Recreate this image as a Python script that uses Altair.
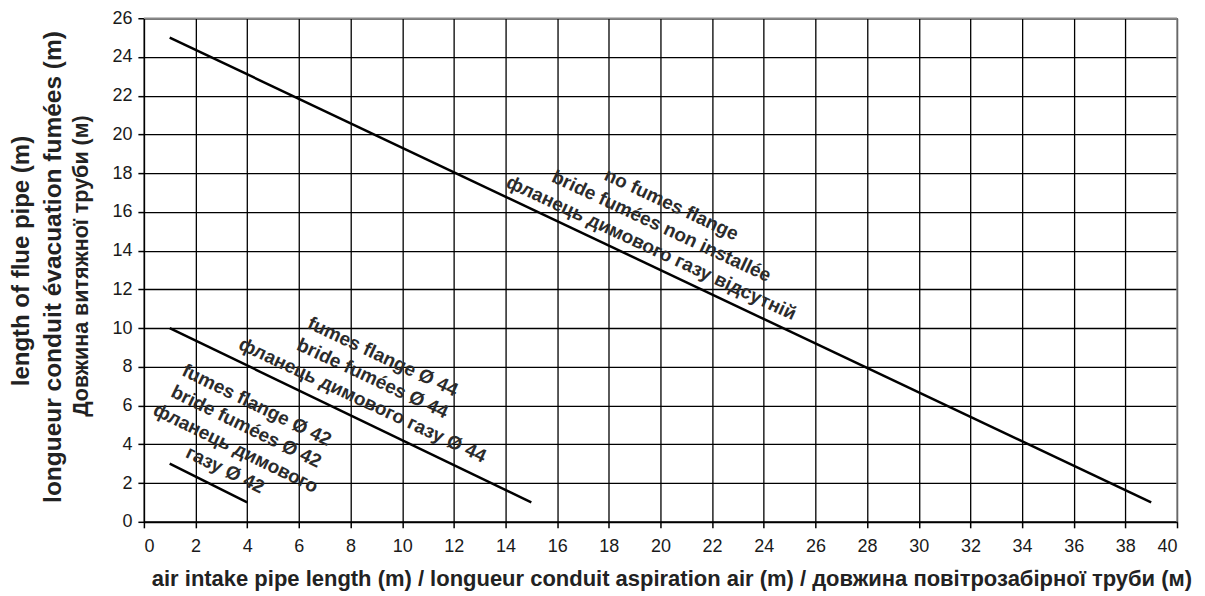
import altair as alt
import pandas as pd

# ---- data ----
x_ticks = list(range(0, 41, 2))
y_ticks = list(range(0, 27, 2))

series = ["no flange", "no flange", "flange 44", "flange 44", "flange 42", "flange 42"]
air_len = [1, 39, 1, 15, 1, 4]
flue_len = [25, 1, 10, 1, 3, 1]

label_text = [
    "no fumes flange\nbride fumées non installée\nфланець димового газу відсутній",
    "fumes flange Ø 44\nbride fumées Ø 44\nфланець димового газу Ø 44",
    "fumes flange Ø 42\nbride fumées Ø 42\nфланець димового\nгазу Ø 42",
]
label_x = [20.43, 9.25, 4.37]
label_y = [16.38, 8.52, 6.02]
label_angle = [25, 25, 26]

frame_top_y = [26]
frame_right_x = [40]

x_title = "air intake pipe length (m) / longueur conduit aspiration air (m) / довжина повітрозабірної труби (м)"
y_title_lines = [
    "length of flue pipe (m)",
    "longueur conduit évacuation fumées (m)",
    "Довжина витяжної труби (м)",
]

FONT = "Liberation Sans"
W, H = 1034, 504

lines_df = pd.DataFrame({"series": series, "air": air_len, "flue": flue_len})
labels_df = pd.DataFrame({"text": label_text, "x": label_x, "y": label_y, "angle": label_angle})

xscale = alt.Scale(domain=[0, 40], nice=False, zero=False)
yscale = alt.Scale(domain=[0, 26], nice=False, zero=False)

xaxis = alt.Axis(
    values=x_ticks, grid=True, gridColor="black", gridWidth=1.3, gridOpacity=1,
    domainColor="black", domainWidth=2, tickColor="black", tickSize=6, tickWidth=1.5,
    labelFont=FONT, labelFontSize=18, labelColor="#1a1a1a", labelPadding=10,
    labelOverlap=False,
    title=x_title, titleFont=FONT, titleFontSize=22, titleFontWeight="bold",
    titleColor="#222222", titleX=528, titleY=64, titleBaseline="alphabetic",
    titleAlign="center", titleAnchor="middle",
)
yaxis = alt.Axis(
    values=y_ticks, grid=True, gridColor="black", gridWidth=1.3, gridOpacity=1,
    domainColor="black", domainWidth=1.5, tickColor="black", tickSize=6, tickWidth=1.5,
    labelFont=FONT, labelFontSize=18, labelColor="#1a1a1a", labelPadding=6,
    labelOverlap=False, labelBound=False, labelFlush=False,
    title=None,
)

lines = alt.Chart(lines_df).mark_line(color="black", strokeWidth=2.5).encode(
    x=alt.X("air:Q", scale=xscale, axis=xaxis, title=x_title),
    y=alt.Y("flue:Q", scale=yscale, axis=yaxis, title=None),
    detail="series:N",
)

frame_top = alt.Chart(pd.DataFrame({"v": frame_top_y})).mark_rule(
    color="#888888", strokeWidth=1.5
).encode(y=alt.Y("v:Q", scale=yscale, axis=yaxis, title=None))
frame_right = alt.Chart(pd.DataFrame({"v": frame_right_x})).mark_rule(
    color="#888888", strokeWidth=1.5
).encode(x=alt.X("v:Q", scale=xscale, axis=xaxis, title=x_title))

labels = alt.Chart(labels_df).mark_text(
    font=FONT, fontSize=19, fontWeight="bold", color="#2b2b2b",
    lineBreak="\n", lineHeight=24, align="center", baseline="middle",
).encode(
    x=alt.X("x:Q", scale=xscale, axis=xaxis, title=x_title),
    y=alt.Y("y:Q", scale=yscale, axis=yaxis, title=None),
    text="text:N",
    angle=alt.Angle("angle:Q", scale=None),
)

ytitle_df = pd.DataFrame({
    "t": y_title_lines,
    "px": [-115, -83, -56],
    "py": [243, 249, 248],
    "fs": [24, 24.5, 21.5],
})
ytitles = alt.Chart(ytitle_df).mark_text(
    font=FONT, fontWeight="bold", color="#222222", angle=270,
    align="center", baseline="alphabetic",
).encode(
    x=alt.X("px:Q", scale=None, axis=None),
    y=alt.Y("py:Q", scale=None, axis=None),
    text="t:N",
    size=alt.Size("fs:Q", scale=None, legend=None),
)

chart = alt.layer(lines, labels, frame_top, frame_right, ytitles).properties(
    width=W, height=H,
    autosize=alt.AutoSizeParams(type="none"),
    padding={"left": 136, "top": 10, "right": 20, "bottom": 70},
).configure_view(stroke=None).configure_axis(
    labelOverlap=False
).configure(background="white")

chart.save("out.html", embed_options={"renderer": "svg", "actions": False})
